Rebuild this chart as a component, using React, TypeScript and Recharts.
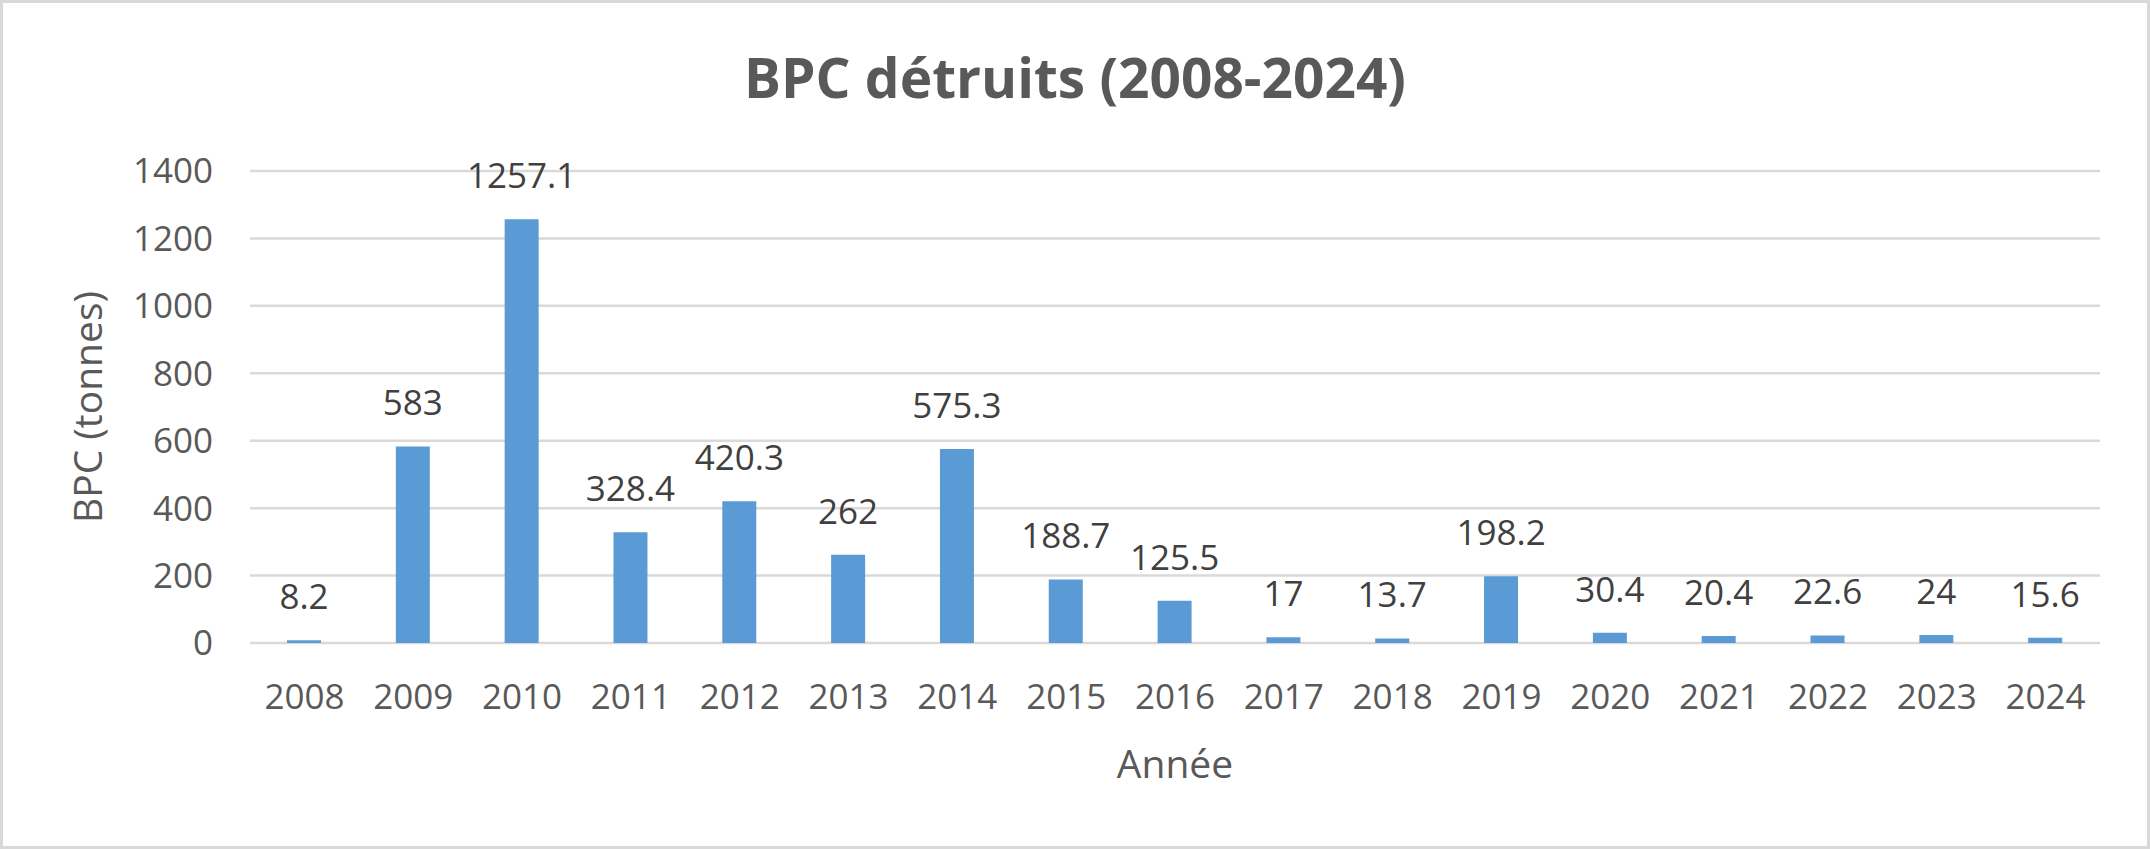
import { BarChart, Bar, XAxis, YAxis, CartesianGrid, LabelList } from "recharts";

const YEARS = [
  "2008", "2009", "2010", "2011", "2012", "2013", "2014", "2015", "2016",
  "2017", "2018", "2019", "2020", "2021", "2022", "2023", "2024",
];

// tonnes of PCB destroyed per year
const TONNES = [
  8.2, 583, 1257.1, 328.4, 420.3, 262, 575.3, 188.7, 125.5,
  17, 13.7, 198.2, 30.4, 20.4, 22.6, 24, 15.6,
];

const Y_TICKS = [0, 200, 400, 600, 800, 1000, 1200, 1400];

const TITLE = "BPC détruits (2008-2024)";
const Y_TITLE = "BPC (tonnes)";
const X_TITLE = "Année";

const FONT = "'Open Sans', 'Noto Sans', sans-serif";
const AXIS_GREY = "#595959";
const LABEL_GREY = "#404040";
const GRID = "#d9d9d9";
const BAR_BLUE = "#5b9bd5";

const W = 2150;
const H = 849;

export default function App() {
  const data = YEARS.map((year, i) => ({ year, value: TONNES[i] }));

  return (
    <div
      style={{
        position: "absolute",
        left: 0,
        top: 0,
        width: W,
        height: H,
        background: "#fff",
        fontFamily: FONT,
      }}
    >
      <div
        style={{
          position: "absolute",
          left: 0,
          top: 49,
          width: W,
          textAlign: "center",
          fontSize: 55,
          lineHeight: "55px",
          fontWeight: 700,
          color: AXIS_GREY,
        }}
      >
        {TITLE}
      </div>

      <BarChart
        width={W}
        height={H}
        data={data}
        margin={{ top: 171, right: 50, bottom: 176, left: 0 }}
        style={{ position: "absolute", left: 0, top: 0 }}
      >
        <CartesianGrid vertical={false} stroke={GRID} strokeWidth={2.5} />
        <XAxis
          dataKey="year"
          axisLine={false}
          tickLine={false}
          tickSize={0}
          tickMargin={41}
          height={30}
          tick={{ fontSize: 35, fill: AXIS_GREY, fontFamily: FONT }}
          interval={0}
          label={{
            value: X_TITLE,
            position: "bottom",
            offset: 77,
            fill: AXIS_GREY,
            style: { fontSize: 39, fontFamily: FONT },
          }}
        />
        <YAxis
          width={250}
          domain={[0, 1400]}
          ticks={Y_TICKS}
          axisLine={false}
          tickLine={false}
          tickSize={0}
          tickMargin={37}
          tick={{ fontSize: 35, fill: AXIS_GREY, fontFamily: FONT }}
          label={{
            value: Y_TITLE,
            angle: -90,
            position: "insideLeft",
            offset: 88,
            fill: AXIS_GREY,
            style: { textAnchor: "middle", fontSize: 39, fontFamily: FONT },
          }}
        />
        <Bar dataKey="value" fill={BAR_BLUE} barSize={34} isAnimationActive={false}>
          <LabelList
            dataKey="value"
            position="top"
            offset={31}
            fontSize={35}
            fill={LABEL_GREY}
            fontFamily={FONT}
          />
        </Bar>
      </BarChart>

      <div
        style={{
          position: "absolute",
          inset: 0,
          border: `3px solid ${GRID}`,
          pointerEvents: "none",
        }}
      />
    </div>
  );
}
